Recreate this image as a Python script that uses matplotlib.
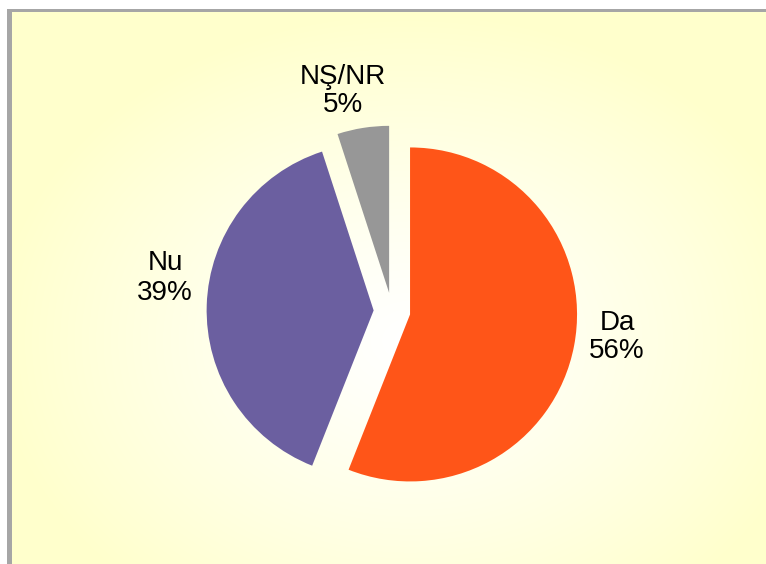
import matplotlib.pyplot as plt
import numpy as np
from matplotlib.patches import Rectangle

# data
labels = ['Da', 'Nu', 'NŞ/NR']
values = [56, 39, 5]
colors = ['#FF5518', '#6B5FA0', '#979797']

plt.rcParams['font.family'] = ['Liberation Sans', 'DejaVu Sans']

W, H = 766, 564
fig = plt.figure(figsize=(W / 100, H / 100), dpi=100)

# background: gray shadow border + radial pale-yellow gradient
bg = fig.add_axes([0, 0, 1, 1])
bg.add_patch(Rectangle((7, 9), W - 7, H - 9, color='#A6A6A6', lw=0, zorder=1))
yy, xx = np.mgrid[12:H, 12:W]
d = np.sqrt(((xx - 410) / 420) ** 2 + ((yy - 340) / 330) ** 2)
t = np.clip(d, 0, 1) ** 1.2
img = np.ones((yy.shape[0], yy.shape[1], 3))
img[..., 2] = 1 - t * (1 - 204 / 255)
bg.imshow(img, extent=(12, W, H, 12), aspect='auto', interpolation='bilinear', zorder=2)
bg.set_xlim(0, W)
bg.set_ylim(H, 0)
bg.axis('off')

# pie: center at (392, 311) px, radius 167 px
r = 167
cx, cy = 392, 311
ax = fig.add_axes([0, 0, 1, 1])
ax.set_facecolor('none')
wedges, texts = ax.pie(values, colors=colors, startangle=90, counterclock=False,
                       explode=[0.11] * 3, radius=1,
                       wedgeprops=dict(linewidth=0))
ax.set_xlim(-cx / r, (W - cx) / r)
ax.set_ylim(-(H - cy) / r, cy / r)
ax.set_aspect('auto')
ax.axis('off')

label_px = [(617, 337), (165, 278), (343, 91)]
for lab, v, (px, py) in zip(labels, values, label_px):
    ax.text((px - cx) / r, (cy - py) / r, f'{lab}\n{v}%', ha='center', va='center',
            fontsize=20, linespacing=1.15, color='black')

fig.savefig('out.png', dpi=100)
